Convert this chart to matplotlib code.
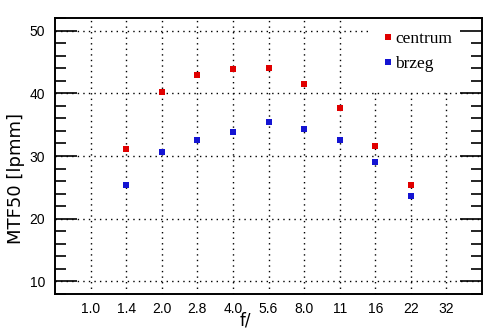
import numpy as np
import matplotlib.pyplot as plt
from matplotlib.ticker import MultipleLocator
from matplotlib.patches import Rectangle

# f-numbers on the category axis
f_labels = ["1.0", "1.4", "2.0", "2.8", "4.0", "5.6", "8.0", "11", "16", "22", "32"]

# MTF50 values (None where no measurement)
centrum = [None, 31.1, 40.2, 42.9, 43.8, 44.0, 41.4, 37.6, 31.6, 25.3, None]
brzeg = [None, 25.3, 30.6, 32.6, 33.9, 35.5, 34.3, 32.6, 29.0, 23.7, None]

x = np.arange(len(f_labels))
c = np.array([np.nan if v is None else v for v in centrum], dtype=float)
b = np.array([np.nan if v is None else v for v in brzeg], dtype=float)

fig = plt.figure(figsize=(4.94, 3.31), dpi=100)
ax = fig.add_axes([55 / 494, 1 - 294 / 331, 427 / 494, 276 / 331])

ax.plot(x, c, linestyle="none", marker="s", markersize=5, color="#e00000",
        markeredgewidth=0, label="centrum", zorder=3)
ax.plot(x, b, linestyle="none", marker="s", markersize=5, color="#1414d2",
        markeredgewidth=0, label="brzeg", zorder=3)

ax.set_xlim(-1, 11)
ax.set_ylim(8, 52)
ax.set_xticks(x)
ax.set_xticklabels(f_labels)
ax.yaxis.set_major_locator(MultipleLocator(10))
ax.yaxis.set_minor_locator(MultipleLocator(2))

ax.tick_params(axis="x", length=0, pad=6, labelsize=10)
ax.tick_params(axis="y", which="major", direction="in", length=16, width=1.2,
               labelsize=10, pad=7)
ax.tick_params(axis="y", which="minor", direction="in", length=8, width=1.2)
for lab in ax.get_xticklabels() + ax.get_yticklabels():
    lab.set_family("Liberation Sans")

ax.grid(True, which="major", color="black", linestyle=(0, (1, 3)), linewidth=1)
for s in ax.spines.values():
    s.set_linewidth(1.2)

# white area behind the legend hides the grid there
ax.add_patch(Rectangle((0.7377, 0.739), 0.2623, 0.261, transform=ax.transAxes,
                       facecolor="white", edgecolor="none", zorder=2))

# right-hand ticks drawn on top
ax2 = ax.twinx()
ax2.set_ylim(ax.get_ylim())
ax2.yaxis.set_major_locator(MultipleLocator(10))
ax2.yaxis.set_minor_locator(MultipleLocator(2))
ax2.tick_params(axis="y", which="major", direction="in", length=16, width=1.2, labelright=False)
ax2.tick_params(axis="y", which="minor", direction="in", length=8, width=1.2)
for s in ax2.spines.values():
    s.set_linewidth(1.2)

ax.set_xlabel("f/", fontsize=12, family="DejaVu Sans")
ax.xaxis.set_label_coords(0.447, -0.065)
ax.set_ylabel("MTF50 [lpmm]", fontsize=13, family="DejaVu Sans")
ax.yaxis.set_label_coords(-0.070, 0.4167)

leg = ax.legend(loc="upper left", bbox_to_anchor=(0.7717, 0.953), frameon=False,
                prop={"family": "Liberation Serif", "size": 12.5},
                handlelength=0.4, handletextpad=0.2, labelspacing=0.5, borderpad=0,
                borderaxespad=0, markerscale=0.8)
leg.set_zorder(4)

fig.savefig("out.png", dpi=100)
